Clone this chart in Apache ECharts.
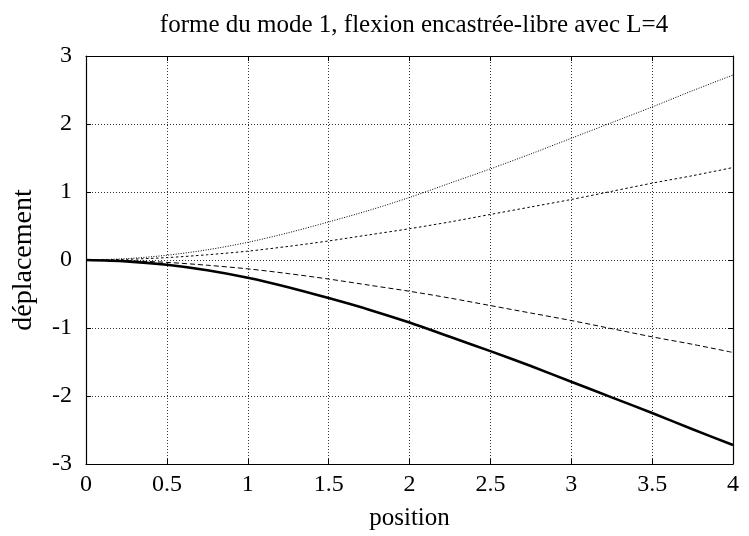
<!DOCTYPE html>
<html><head><meta charset="utf-8">
<script src="https://cdn.jsdelivr.net/npm/echarts@6/dist/echarts.min.js"></script>
<style>html,body{margin:0;padding:0;background:#fff}#c{width:749px;height:536px}</style>
</head><body><div id="c"></div>
<script>
const positions = [0,0.25,0.5,0.75,1,1.25,1.5,1.75,2,2.25,2.5,2.75,3,3.25,3.5,3.75,4];
const modeNeg   = [0,-0.02,-0.07,-0.15,-0.26,-0.40,-0.56,-0.73,-0.92,-1.13,-1.34,-1.56,-1.79,-2.02,-2.25,-2.49,-2.72];
const halfNeg   = [0,-0.01,-0.035,-0.077,-0.13,-0.20,-0.28,-0.37,-0.46,-0.56,-0.67,-0.78,-0.89,-1.01,-1.13,-1.24,-1.36];
const halfPos   = [0,0.01,0.035,0.077,0.13,0.20,0.28,0.37,0.46,0.56,0.67,0.78,0.89,1.01,1.13,1.24,1.36];
const modePos   = [0,0.02,0.07,0.15,0.26,0.40,0.56,0.73,0.92,1.13,1.34,1.56,1.79,2.02,2.25,2.49,2.72];
const titleText = 'forme du mode 1, flexion encastrée-libre avec L=4';
const xName = 'position';
const yName = 'déplacement';

const font = '"Liberation Serif", "DejaVu Serif", serif';
const pair = ys => positions.map((x,i)=>[x, ys[i]]);
const chart = echarts.init(document.getElementById('c'), null, {renderer:'canvas'});
const gridLine = {show:true, lineStyle:{color:'#333', width:1, type:[1,2]}};
const axisBase = {
  axisLine:{show:true, onZero:false, lineStyle:{color:'#000', width:1.2}},
  axisTick:{show:true, inside:true, length:5, lineStyle:{color:'#000'}},
};
chart.setOption({
  animation:false,
  backgroundColor:'#fff',
  title:{text:titleText, left:409, textAlign:'center', top:8,
    textStyle:{fontFamily:font, fontSize:25, fontWeight:'normal', color:'#000'}},
  grid:{left:86, right:16, top:56, bottom:72, containLabel:false},
  xAxis:[
    Object.assign({type:'value', min:0, max:4, interval:0.5, position:'bottom',
      name:xName, nameLocation:'middle', nameGap:42,
      nameTextStyle:{fontFamily:font, fontSize:25, color:'#000'},
      axisLabel:{fontFamily:font, fontSize:24, color:'#000', margin:9},
      splitLine:gridLine}, axisBase),
    Object.assign({type:'value', min:0, max:4, interval:0.5, position:'top',
      axisLabel:{show:false}, splitLine:{show:false}}, axisBase)
  ],
  yAxis:[
    Object.assign({type:'value', min:-3, max:3, interval:1, position:'left',
      name:yName, nameLocation:'middle', nameGap:48, nameRotate:90,
      nameTextStyle:{fontFamily:font, fontSize:28, color:'#000'},
      axisLabel:{fontFamily:font, fontSize:24, color:'#000', margin:14},
      splitLine:gridLine}, axisBase),
    Object.assign({type:'value', min:-3, max:3, interval:1, position:'right',
      axisLabel:{show:false}, splitLine:{show:false}}, axisBase)
  ],
  series:[
    {type:'line', data:pair(modeNeg), smooth:0.3, showSymbol:false,
      lineStyle:{color:'#000', width:2.6, type:'solid'}},
    {type:'line', data:pair(halfNeg), smooth:0.3, showSymbol:false,
      lineStyle:{color:'#000', width:1, type:[5,3]}},
    {type:'line', data:pair(halfPos), smooth:0.3, showSymbol:false,
      lineStyle:{color:'#000', width:1, type:[2.5,2.5]}},
    {type:'line', data:pair(modePos), smooth:0.3, showSymbol:false,
      lineStyle:{color:'#000', width:1, type:[1,1.5]}}
  ]
});
</script></body></html>
